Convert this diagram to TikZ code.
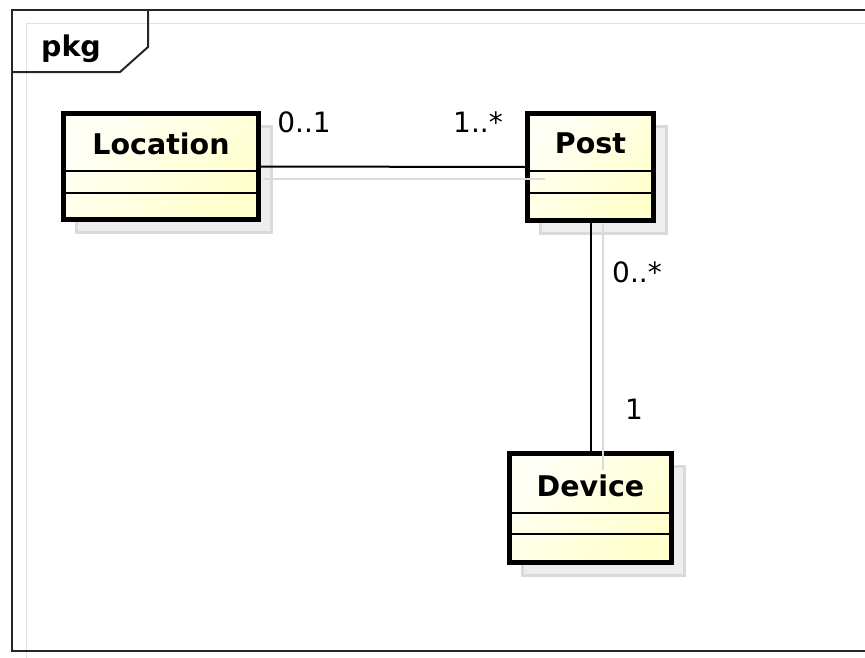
\documentclass[tikz,border=0pt]{standalone}
\usepackage{fontspec}
\setmainfont{DejaVu Sans}
\usetikzlibrary{shadows}
\definecolor{ylight}{RGB}{255,255,246}
\definecolor{ydark}{RGB}{255,255,204}
\definecolor{shadowfill}{RGB}{238,238,238}
\definecolor{shadowline}{RGB}{218,218,218}
\definecolor{frameshadow}{RGB}{225,225,225}
\tikzset{
  classbox/.style={draw=black, line width=5pt, outer sep=0pt, inner sep=0pt,
    left color=ylight, right color=ydark, shading angle=45,
    general shadow={shadow xshift=13pt, shadow yshift=-13pt, fill=shadowfill, draw=shadowline, line width=2.5pt}},
  comp/.style={draw=black, line width=1.5pt},
  classname/.style={font=\bfseries\fontsize{28.5}{34}\selectfont, anchor=base, inner sep=0pt},
  mult/.style={font=\fontsize{28}{34}\selectfont, inner sep=0pt},
  assoc/.style={draw=black, line width=2pt},
  assocshadow/.style={draw=shadowline, line width=1.8pt},
  framestyle/.style={draw=black!85, line width=2pt},
}
\begin{document}
\begin{tikzpicture}[x=1pt,y=-1pt]
\useasboundingbox (0,0) rectangle (865,657);
% package frame with its shadow
\draw[frameshadow, line width=1.5pt] (26.5,23.5) rectangle (890,670);
\draw[framestyle] (12,10) rectangle (880,651);
\draw[framestyle] (12,72) -- (120,72) -- (148,47) -- (148,10);
\node[font=\bfseries\fontsize{28.5}{34}\selectfont, anchor=base, inner sep=0pt] (pkg) at (71,56) {pkg};

% classes
\node[classbox, minimum width=195pt, minimum height=106pt] (loc) at (161,166.5) {};
\node[classbox, minimum width=126pt, minimum height=107pt] (post) at (590.5,167) {};
\node[classbox, minimum width=162pt, minimum height=109pt] (dev) at (590.5,508) {};

\foreach \n/\a/\b in {loc/57.5/79.5, post/57.5/79.5, dev/59.5/80.5}{
  \draw[comp] ([yshift=-\a pt]\n.north west) -- ([yshift=-\a pt]\n.north east);
  \draw[comp] ([yshift=-\b pt]\n.north west) -- ([yshift=-\b pt]\n.north east);
}
\node[classname] (locname) at ([yshift=-41pt]loc.north) {Location};
\node[classname] (postname) at ([yshift=-40pt]post.north) {Post};
\node[classname] (devname) at ([yshift=-43pt]dev.north) {Device};

% associations
\draw[assoc] (loc.east) -- (post.west);
\draw[assoc] (post.south) -- (dev.north);
\draw[assocshadow] ([shift={(4,12.5)}]loc.east) -- ([shift={(17,12)}]post.west);
\draw[assocshadow] ([shift={(12.5,3)}]post.south) -- ([shift={(12.5,16)}]dev.north);

% multiplicities
\node[mult] (m1) at (304,122) {0..1};
\node[mult] (m2) at (478,122) {1..*};
\node[mult] (m3) at (637,272) {0..*};
\node[mult] (m4) at (634,409) {1};
\end{tikzpicture}
\end{document}
